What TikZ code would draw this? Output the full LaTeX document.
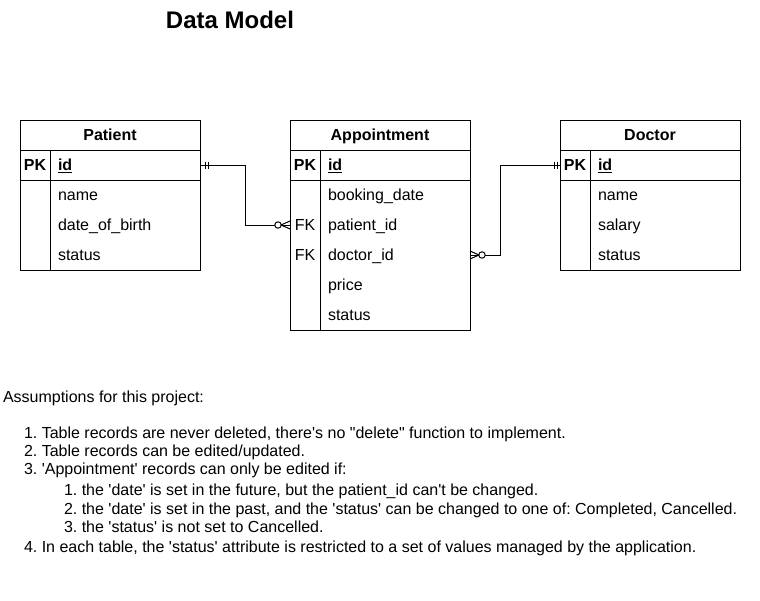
\documentclass[tikz,border=0pt]{standalone}
\usepackage{fontspec}
\setmainfont{Liberation Sans}[Ligatures=TeXOff]
\begin{document}
\frenchspacing
\begin{tikzpicture}[x=0.75pt,y=-0.75pt,line width=0.75pt,
  every node/.style={inner sep=0pt,outer sep=0pt},
  txt/.style={text height=10.86pt,text depth=2.54pt},
  hdr/.style={draw,anchor=north west,minimum width=135pt,minimum height=22.5pt,txt,font=\fontsize{12}{14}\selectfont\bfseries},
  pkrow/.style={draw,anchor=north west,minimum width=135pt,minimum height=22.5pt},
  bodybox/.style={draw,anchor=north west,minimum width=135pt},
  rowbox/.style={anchor=north west,minimum width=135pt,minimum height=22.5pt},
  fld/.style={anchor=west,txt,font=\fontsize{12}{14}\selectfont},
  keyt/.style={txt,font=\fontsize{12}{14}\selectfont},
  note/.style={anchor=west,txt,font=\fontsize{12}{14}\selectfont},
  conn/.style={line width=0.75pt},
  circ/.style={draw,fill=white,line width=0.75pt}
]
\useasboundingbox (0,0) rectangle (760,600);

% Title
\node[font=\fontsize{18}{21}\selectfont\bfseries,text height=16.3pt,text depth=3.8pt] (title) at (230,20) {Data Model};

% Patient
\node[hdr] (pat) at (20,120) {Patient};
\node[pkrow] (pat-id) at (20,150) {};
\node[bodybox,minimum height=67.5pt] (pat-body) at (20,180) {};
\draw (50,150) -- (50,270);
\node[keyt] (pat-pk) at (35,165) {\bfseries PK};
\node[fld] (pat-f1) at (58,165) {\bfseries\underline{id}};
\node[fld] (pat-f2) at (58,195) {name};
\node[fld] (pat-f3) at (58,225) {date\_of\_birth};
\node[fld] (pat-f4) at (58,255) {status};

% Appointment
\node[hdr] (app) at (290,120) {Appointment};
\node[pkrow] (app-id) at (290,150) {};
\node[bodybox,minimum height=112.5pt] (app-body) at (290,180) {};
\draw (320,150) -- (320,330);
\node[rowbox] (app-r3) at (290,210) {};
\node[rowbox] (app-r4) at (290,240) {};
\node[keyt] (app-pk) at (305,165) {\bfseries PK};
\node[keyt] (app-fk1) at (305,225) {FK};
\node[keyt] (app-fk2) at (305,255) {FK};
\node[fld] (app-f1) at (328,165) {\bfseries\underline{id}};
\node[fld] (app-f2) at (328,195) {booking\_date};
\node[fld] (app-f3) at (328,225) {patient\_id};
\node[fld] (app-f4) at (328,255) {doctor\_id};
\node[fld] (app-f5) at (328,285) {price};
\node[fld] (app-f6) at (328,315) {status};

% Doctor
\node[hdr] (doc) at (560,120) {Doctor};
\node[pkrow] (doc-id) at (560,150) {};
\node[bodybox,minimum height=67.5pt] (doc-body) at (560,180) {};
\draw (590,150) -- (590,270);
\node[keyt] (doc-pk) at (575,165) {\bfseries PK};
\node[fld] (doc-f1) at (598,165) {\bfseries\underline{id}};
\node[fld] (doc-f2) at (598,195) {name};
\node[fld] (doc-f3) at (598,225) {salary};
\node[fld] (doc-f4) at (598,255) {status};

% Patient -> Appointment (one mandatory to zero-or-many)
\draw[conn] (pat-id.east) -- ++(45,0) |- (app-r3.west);
\draw[conn] (pat-id.east) ++(5,-3.5) -- ++(0,7);
\draw[conn] (pat-id.east) ++(8,-3.5) -- ++(0,7);
\draw[conn] (app-r3.west) ++(0,-4) -- ++(-9,4) -- ++(9,4);
\draw[circ] (app-r3.west) ++(-12,0) circle[radius=2.4pt];

% Appointment -> Doctor
\draw[conn] (app-r4.east) -- ++(30,0) |- (doc-id.west);
\draw[conn] (doc-id.west) ++(-6,-3.5) -- ++(0,7);
\draw[conn] (doc-id.west) ++(-3,-3.5) -- ++(0,7);
\draw[conn] (app-r4.east) ++(0,-4) -- ++(9,4) -- ++(-9,4);
\draw[circ] (app-r4.east) ++(12,0) circle[radius=2.4pt];

% Notes
\node[note] (n0) at (3,397) {Assumptions for this project:};
\node[note] (n1) at (24,433) {1. Table records are never deleted, there's no "delete" function to implement.};
\node[note] (n2) at (24,451) {2. Table records can be edited/updated.};
\node[note] (n3) at (24,469) {3. 'Appointment' records can only be edited if:};
\node[note] (n31) at (64,490) {1. the 'date' is set in the future, but the patient\_id can't be changed.};
\node[note] (n32) at (64,509) {2. the 'date' is set in the past, and the 'status' can be changed to one of: Completed, Cancelled.};
\node[note] (n33) at (64,527) {3. the 'status' is not set to Cancelled.};
\node[note] (n4) at (24,547) {4. In each table, the 'status' attribute is restricted to a set of values managed by the application.};
\end{tikzpicture}
\end{document}
